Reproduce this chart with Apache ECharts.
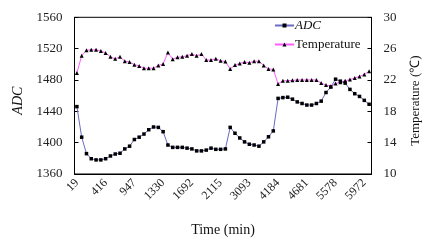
<!DOCTYPE html>
<html>
<head>
<meta charset="utf-8">
<script src="https://cdn.jsdelivr.net/npm/echarts@6/dist/echarts.min.js"></script>
<style>
html,body{margin:0;padding:0;background:#fff;}
#c{width:436px;height:249px;}
</style>
</head>
<body>
<div id="c"></div>
<script>
// Time tick labels (min), one every 6 samples
const tickLabels = ['19','416','947','1330','1692','2115','3093','4184','4681','5578','5972'];
// ADC readings
const adc = [1446,1407,1386,1379.5,1378,1378,1379.5,1383,1385.5,1386.5,1392,1395.5,1404,1407,1411,1416.5,
  1420,1419.5,1414,1397,1394,1394,1394,1393,1392,1389.5,1389.5,1390.5,1393,1391.5,1391.5,1392,
  1419.5,1412,1406,1401,1398,1397,1395.5,1401,1407.5,1415,1456.5,1457.5,1458,1455.5,1452,1450,
  1448,1448,1450,1453,1464,1471,1481,1478.5,1476,1468,1462.5,1459,1454,1449];
// Temperature readings (°C)
const temperature = [22.9,25.1,25.8,25.85,25.85,25.7,25.45,24.95,24.7,24.95,24.4,24.3,23.95,23.8,23.5,23.5,
  23.5,23.85,24.05,25.5,24.65,24.9,24.95,25.1,25.3,25.1,25.3,24.55,24.55,24.7,24.45,24.35,
  23.4,23.9,24.1,24.3,24.2,24.4,24.4,23.85,23.4,23.35,21.5,21.9,21.9,21.95,22.0,22.0,
  22.0,22.0,22.0,21.6,21.35,21.2,21.55,21.7,21.9,22.05,22.25,22.45,22.7,23.1];
const categories = adc.map((_, i) => String(i));

const FONT = "'Liberation Serif','Times New Roman',serif";
const chart = echarts.init(document.getElementById('c'), null, {renderer:'canvas'});
chart.setOption({
  animation: false,
  backgroundColor: '#fff',
  grid: {left: 74.5, right: 64.5, top: 17.3, bottom: 75, show: true, borderColor: '#000', borderWidth: 1, containLabel: false},
  legend: {
    orient: 'vertical', left: 269, top: 14, itemWidth: 19, itemHeight: 5, itemGap: 6,
    data: ['ADC', 'Temperature'],
    formatter: n => n === 'ADC' ? '{i|ADC}' : n,
    textStyle: {fontFamily: FONT, fontSize: 13, color: '#111', padding: [0,0,0,-4],
      rich: {i: {fontFamily: FONT, fontSize: 13, fontStyle: 'italic', color: '#111'}}}
  },
  xAxis: {
    type: 'category', data: categories, boundaryGap: true,
    name: 'Time (min)', nameLocation: 'middle', nameGap: 49,
    nameTextStyle: {fontFamily: FONT, fontSize: 14, color: '#111'},
    axisLine: {lineStyle: {color: '#000', width: 1}},
    axisTick: {inside: true, length: 4, interval: 3, lineStyle: {color: '#000'}},
    axisLabel: {interval: 5, rotate: 45, margin: 7, fontFamily: FONT, fontSize: 12, color: '#222',
      formatter: (v, i) => tickLabels[Math.round(i / 6)]},
    splitLine: {show: false}
  },
  yAxis: [{
    type: 'value', min: 1360, max: 1560, interval: 40,
    name: 'ADC', nameLocation: 'middle', nameGap: 36,
    nameTextStyle: {fontFamily: FONT, fontSize: 14, fontStyle: 'italic', color: '#111', padding: [0, 10, 0, 0]},
    axisLine: {show: true, lineStyle: {color: '#000'}},
    axisTick: {show: true, inside: true, length: 4, lineStyle: {color: '#000'}},
    axisLabel: {margin: 12, fontFamily: FONT, fontSize: 13, color: '#222', formatter: v => String(v)},
    splitLine: {show: false}
  }, {
    type: 'value', min: 10, max: 30, interval: 4, position: 'right',
    name: 'Temperature (℃)', nameLocation: 'middle', nameGap: 38, nameRotate: 90,
    nameTextStyle: {fontFamily: FONT, fontSize: 13, color: '#111', padding: [0, 10, 0, 0]},
    axisLine: {show: true, lineStyle: {color: '#000'}},
    axisTick: {show: true, inside: true, length: 4, lineStyle: {color: '#000'}},
    axisLabel: {margin: 12, fontFamily: FONT, fontSize: 13, color: '#222', formatter: v => String(v)},
    splitLine: {show: false}
  }],
  series: [{
    name: 'ADC', type: 'line', yAxisIndex: 0, data: adc,
    symbol: 'rect', symbolSize: 3.5, showAllSymbol: true,
    lineStyle: {color: '#6a6ac4', width: 1},
    itemStyle: {color: '#000'}
  }, {
    name: 'Temperature', type: 'line', yAxisIndex: 1, data: temperature,
    symbol: 'triangle', symbolSize: 4, showAllSymbol: true,
    lineStyle: {color: '#ff5cff', width: 1},
    itemStyle: {color: '#000'}
  }]
});
</script>
</body>
</html>
